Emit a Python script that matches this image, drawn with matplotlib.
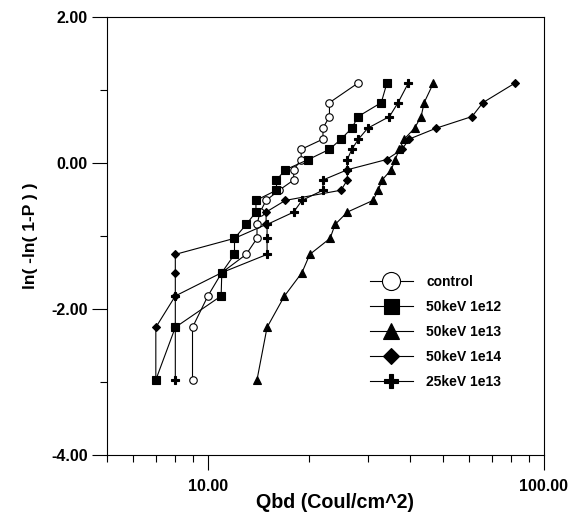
import matplotlib
matplotlib.use("Agg")
import matplotlib.pyplot as plt
from matplotlib.lines import Line2D
from matplotlib import ticker
import numpy as np

plt.rcParams['font.family'] = ['Liberation Sans', 'DejaVu Sans']
plt.rcParams['font.weight'] = 'bold'

# Weibull levels ln(-ln(1-P)), shared by all series (bottom to top)
y_levels = [-2.97, -2.25, -1.82, -1.50, -1.25, -1.03, -0.84, -0.67, -0.51, -0.37,
            -0.23, -0.09, 0.05, 0.19, 0.33, 0.48, 0.64, 0.83, 1.10]

x_control = [9.0, 9.0, 10.0, 11.0, 13.0, 14.0, 14.0, 14.3, 14.9, 16.3,
             18.0, 18.0, 18.95, 18.95, 22.0, 22.0, 23.0, 23.0, 28.0]
x_50k_1e12 = [7.0, 8.0, 10.95, 11.0, 12.0, 12.0, 13.0, 13.9, 13.9, 16.0,
              16.0, 17.0, 19.9, 23.0, 24.9, 26.8, 28.0, 32.8, 34.1]
x_50k_1e13 = [14.0, 15.0, 16.9, 19.05, 20.1, 23.1, 23.9, 26.0, 31.0, 32.1,
              33.0, 35.1, 36.1, 37.1, 38.4, 41.2, 43.1, 44.0, 46.9]
x_50k_1e14 = [7.0, 7.0, 8.0, 8.0, 8.0, 12.0, 14.9, 14.9, 17.0, 24.9,
              26.0, 26.0, 34.0, 37.8, 39.7, 47.8, 61.1, 65.8, 82.1]
x_25k_1e13 = [8.0, 8.0, 8.0, 11.0, 15.0, 15.0, 15.0, 18.0, 19.05, 22.0,
              22.0, 26.0, 26.0, 26.8, 28.06, 29.9, 34.7, 36.8, 39.5]

labels = ['control', '50keV 1e12', '50keV 1e13', '50keV 1e14', '25keV 1e13']
series = [x_control, x_50k_1e12, x_50k_1e13, x_50k_1e14, x_25k_1e13]
markers = ['o', 's', '^', 'D', 'P']
msizes = [5.4, 5.2, 5.6, 3.8, 6.0]
leg_sizes = [13.0, 10.8, 11.0, 7.8, 10.5]
faces = ['white', 'black', 'black', 'black', 'black']
zorders = [2, 6, 4, 5, 3]

fig = plt.figure(figsize=(5.86, 5.16), dpi=100)
ax = fig.add_axes([0.1821, 0.1182, 0.7462, 0.8483])

for xs, lab, m, ms, fc, z in zip(series, labels, markers, msizes, faces, zorders):
    ax.plot(xs, y_levels, color='black', lw=0.8, marker=m, markersize=ms,
            markerfacecolor=fc, markeredgecolor='black', markeredgewidth=0.8,
            zorder=z, label=lab)

ax.set_xscale('log')
ax.set_xlim(5, 100)
ax.set_ylim(-4, 2)

x_major = [10, 100]
x_major_labels = ['10.00', '100.00']
y_major = [-4, -2, 0, 2]
y_major_labels = ['-4.00', '-2.00', '0.00', '2.00']

ax.xaxis.set_major_locator(ticker.FixedLocator(x_major))
ax.xaxis.set_major_formatter(ticker.FixedFormatter(x_major_labels))
ax.xaxis.set_minor_locator(ticker.LogLocator(base=10, subs=np.arange(2, 10)))
ax.xaxis.set_minor_formatter(ticker.NullFormatter())
ax.yaxis.set_major_locator(ticker.FixedLocator(y_major))
ax.yaxis.set_major_formatter(ticker.FixedFormatter(y_major_labels))
ax.yaxis.set_minor_locator(ticker.MultipleLocator(1))

ax.tick_params(which='major', direction='out', length=10.8, width=0.8,
               labelsize=11.5, pad=3)
ax.tick_params(axis='x', which='major', pad=6.5)
ax.tick_params(which='minor', direction='out', length=4.8, width=0.8)
for lbl in ax.get_xticklabels() + ax.get_yticklabels():
    lbl.set_fontweight('bold')

for sp in ax.spines.values():
    sp.set_linewidth(0.8)

ax.set_xlabel('Qbd (Coul/cm^2)', fontsize=14.2, fontweight='bold')
ax.xaxis.set_label_coords(0.523, -0.086)
ax.set_ylabel('ln( -ln( 1-P ) )', fontsize=12.5, fontweight='bold')
ax.yaxis.set_label_coords(-0.157, 0.5)

handles = [Line2D([0], [0], color='black', lw=0.8, marker=m, markersize=ls,
                  markerfacecolor=fc, markeredgecolor='black', markeredgewidth=0.8)
           for m, ls, fc in zip(markers, leg_sizes, faces)]
ax.legend(handles, labels, loc='upper left', bbox_to_anchor=(0.602, 0.4115),
          frameon=False, borderpad=0, borderaxespad=0, handlelength=3.07,
          handletextpad=1.0, labelspacing=0.8,
          prop={'size': 10, 'weight': 'bold'})

fig.savefig('out.png', dpi=100)
